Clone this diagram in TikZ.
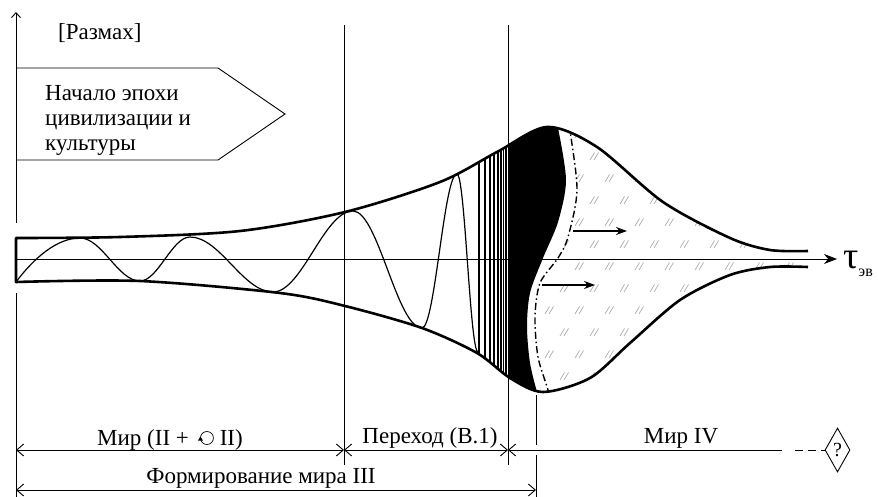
\documentclass[tikz,border=0pt]{standalone}
\usepackage{fontspec}
\setmainfont{Liberation Serif}
\usetikzlibrary{arrows.meta,shapes.geometric}
\newcommand\cyclearrow{\tikz[baseline=-7pt,x=1pt,y=1pt]{\draw[line width=0.7pt] (0,0) circle (6.5pt); \fill (-6.5,1.5) -- (-9,-2.5) -- (-4,-2.5) -- cycle;}}
\begin{document}
\begin{tikzpicture}[x=1pt,y=-1pt,
  thinline/.style={line width=0.9pt},
  tubeline/.style={line width=2.6pt,line join=round},
  waveline/.style={line width=1.2pt},
  hatchmark/.style={draw=gray!65,line width=0.7pt},
  lbl/.style={font=\fontsize{23}{25}\selectfont,inner sep=0pt},
  >={Straight Barb[length=7pt,width=12pt]}]
\useasboundingbox (0,0) rectangle (878,497);

% axes
\coordinate (yaxB) at (16,497);
\coordinate (yaxG1) at (16,293);
\coordinate (yaxG2) at (16,223);
\coordinate (yaxT) at (16,12);
\draw[thinline] (yaxB) -- (yaxG1);
\draw[thinline,-{Straight Barb[length=5pt,width=9pt]}] (yaxG2) -- (yaxT);
\coordinate (xaxL) at (16,259);
\coordinate (xaxR) at (837,259);
\draw[thinline,-{Stealth[length=13pt,width=10pt]}] (xaxL) -- (xaxR);
\node[anchor=base west,inner sep=0pt,font=\fontsize{38}{38}\selectfont] (tau) at (843,268)
  {τ\raisebox{-8pt}{\fontsize{16}{16}\selectfont эв}};

% vertical separators
\coordinate (v1t) at (344,25); \coordinate (v1b) at (344,465);
\coordinate (v2t) at (508,25); \coordinate (v2b) at (508,465);
\draw[thinline] (v1t) -- (v1b);
\draw[thinline] (v2t) -- (v2b);

% pentagon label
\draw[thinline] (16,68) -- (218,68) -- (285,114) -- (218,160) -- (16,160);
\node[lbl,anchor=north west,align=left] (start) at (45,85) {Начало эпохи\\цивилизации и\\культуры};
\node[lbl,anchor=base west] (razmah) at (58,40) {[Размах]};

% inside the tube
\begin{scope}
\clip plot[smooth] coordinates {(16,238) (120,237) (240,231) (345,212) (440,182) (497,152) (547,127) (597,147) (663,202) (730,238) (770,250) (808,251)}
  -- plot[smooth] coordinates {(808,267) (770,267) (730,275) (680,300) (630,343) (590,378) (543,392) (510,378) (477,353) (422,328) (345,306) (280,293) (140,281) (16,282)} -- cycle;
\foreach \x in {479,485,490,494,498,501,503.5,506}{\draw[line width=1.1pt] (\x,100) -- (\x,420);}
\fill (508,100) -- (556,100) -- plot[smooth] coordinates {(558,128) (566,180) (558,222) (543,258) (530,293) (527,327) (530,363) (537,392)} -- (540,420) -- (508,420) -- cycle;
\begin{scope}
\clip plot[smooth] coordinates {(568,110) (570,130) (577,190) (568,237) (558,258) (540,283) (535,317) (538,357) (548,390) (552,410)} -- (900,410) -- (900,110) -- cycle;
\foreach \r in {0,...,12}{
  \foreach \c in {0,...,10}{
    \pgfmathsetmacro\hx{545+30*\c+15*mod(\r,2)}
    \pgfmathsetmacro\hy{138+22*\r}
    \draw[hatchmark] (\hx,\hy) -- ++(4.5,-7.5) (\hx+4,\hy) -- ++(4.5,-7.5);
  }
}
\end{scope}
\draw[line width=1.4pt,dash pattern=on 7pt off 3pt on 1.5pt off 3pt] plot[smooth] coordinates {(568,110) (570,130) (577,190) (568,237) (558,258) (540,283) (535,317) (538,357) (548,390) (552,410)};
\end{scope}

% motion arrows
\coordinate (ma1) at (573,231); \coordinate (mb1) at (627,231);
\coordinate (ma2) at (542,285); \coordinate (mb2) at (595,285);
\draw[line width=1.3pt,-{Stealth[length=11pt,width=8pt]}] (ma1) -- (mb1);
\draw[line width=1.3pt,-{Stealth[length=11pt,width=8pt]}] (ma2) -- (mb2);

% wave
\draw[waveline] (16,282) .. controls (34,258) and (57,238) .. (80,238)
  .. controls (102,238) and (118,281) .. (140,281)
  .. controls (158,281) and (172,237) .. (190,237)
  .. controls (220,237) and (243,292) .. (273,292)
  .. controls (302,292) and (324,211) .. (353,211)
  .. controls (378,211) and (397,328) .. (422,328)
  .. controls (435,328) and (444,174) .. (457,174)
  .. controls (465,174) and (470,352) .. (478,352);

% tube boundary
\draw[tubeline] plot[smooth] coordinates {(808,251) (770,250) (730,238) (663,202) (597,147) (547,127) (497,152) (440,182) (345,212) (240,231) (120,237) (16,238)}
  -- plot[smooth] coordinates {(16,282) (140,281) (280,293) (345,306) (422,328) (477,353) (510,378) (543,392) (590,378) (630,343) (680,300) (730,275) (770,267) (808,267)};

% dimension lines
\coordinate (d0) at (16,450); \coordinate (d1) at (344,450);
\coordinate (d2) at (508,450); \coordinate (d3) at (782,450);
\coordinate (d4) at (795,450);
\draw[thinline,<->] (d0) -- (d1);
\draw[thinline,<->] (d1) -- (d2);
\draw[thinline,<-] (d2) -- (d3);
\node[diamond,draw,thinline,inner sep=0pt,minimum width=25pt,minimum height=44pt,font=\fontsize{20}{20}\selectfont] (q) at (837.5,450) {?};
\draw[thinline,dash pattern=on 8pt off 5pt] (d4) -- (q.west);
\coordinate (e0) at (16,490); \coordinate (e1) at (536,490);
\draw[thinline,<->] (e0) -- (e1);
\coordinate (v3a) at (536,395); \coordinate (v3b) at (536,445);
\coordinate (v3c) at (536,455); \coordinate (v3d) at (536,497);
\draw[thinline] (v3a) -- (v3b);
\draw[thinline] (v3c) -- (v3d);

\node[lbl,anchor=base] (mir) at (170,445) {Мир (II +\hspace{9pt}\cyclearrow\hspace{6pt}II)};
\node[lbl,anchor=base] (per) at (430,443) {Переход (В.1)};
\node[lbl,anchor=base] (mir4) at (681,443) {Мир IV};
\node[lbl,anchor=base] (form) at (261,483) {Формирование мира III};
\end{tikzpicture}
\end{document}
